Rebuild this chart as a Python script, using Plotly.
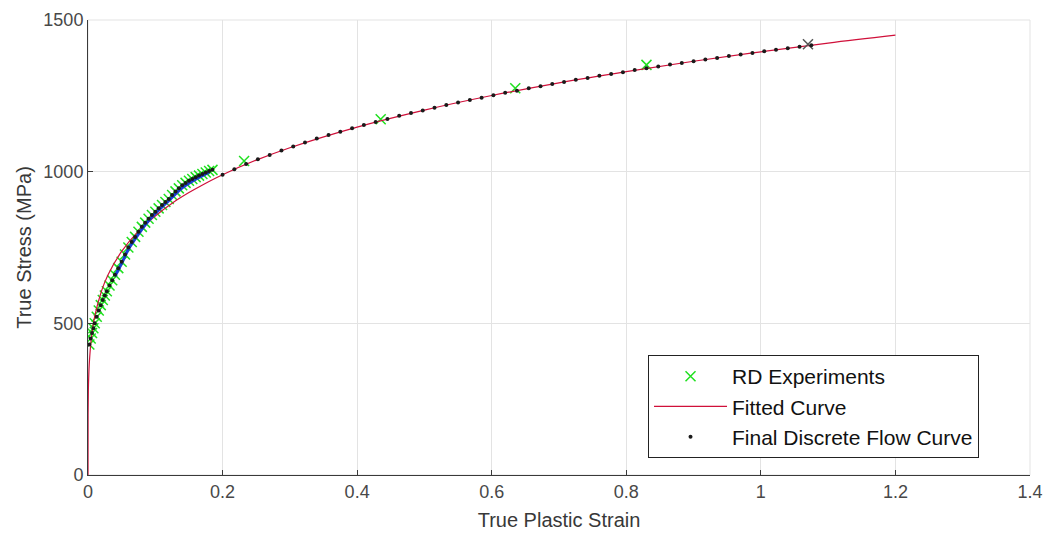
import plotly.graph_objects as go

# RD experimental data (true plastic strain, true stress MPa)
exp_strain = [0.002, 0.004, 0.006, 0.008, 0.010, 0.013, 0.016, 0.019, 0.022, 0.025,
              0.028, 0.032, 0.036, 0.040, 0.045, 0.050, 0.055, 0.060, 0.065, 0.070,
              0.075, 0.080, 0.085, 0.090, 0.095, 0.100, 0.105, 0.110, 0.115, 0.120,
              0.125, 0.130, 0.135, 0.140, 0.145, 0.150, 0.155, 0.160, 0.165, 0.170,
              0.175, 0.180, 0.185]
exp_stress = [430, 450, 468, 484, 500, 522, 542, 560, 577, 592,
              606, 625, 642, 660, 682, 703, 727, 750, 768, 785,
              802, 818, 832, 845, 857, 868, 879, 890, 900, 910,
              923, 935, 945, 955, 963, 970, 976, 982, 987, 992,
              997, 1002, 1006]

# isolated RD experiment points at larger strain
rd_far_strain = [0.232, 0.435, 0.635, 0.830]
rd_far_stress = [1035, 1173, 1275, 1352]
rd_last_strain = [1.07]
rd_last_stress = [1420]

# blue experimental curve
blue_strain = [0.040, 0.050, 0.060, 0.070, 0.080, 0.090, 0.100, 0.110, 0.120,
               0.130, 0.140, 0.150, 0.160, 0.170, 0.180]
blue_stress = [655, 698, 744, 778, 810, 838, 862, 884, 904,
               927, 947, 962, 975, 987, 998]

# fitted curve
fit_strain = [0.0, 0.0001, 0.0005, 0.001, 0.002, 0.005, 0.01, 0.02, 0.03, 0.05,
              0.075, 0.1, 0.125, 0.15, 0.175, 0.2, 0.25, 0.3, 0.4, 0.5,
              0.6, 0.7, 0.8, 0.9, 1.0, 1.1, 1.2]
fit_stress = [0, 197, 276, 320, 371, 451, 523, 606, 661, 737,
              804, 854, 896, 931, 962, 990, 1038, 1079, 1147, 1203,
              1251, 1293, 1330, 1364, 1395, 1424, 1450]

# final discrete flow curve (beyond experiments)
disc_strain = [0.2, 0.2175, 0.235, 0.2525, 0.27, 0.2875, 0.305, 0.3225, 0.34, 0.3575,
               0.375, 0.3925, 0.41, 0.4275, 0.445, 0.4625, 0.48, 0.4975, 0.515, 0.5325,
               0.55, 0.5675, 0.585, 0.6025, 0.62, 0.6375, 0.655, 0.6725, 0.69, 0.7075,
               0.725, 0.7425, 0.76, 0.7775, 0.795, 0.8125, 0.83, 0.8475, 0.865, 0.8825,
               0.9, 0.9175, 0.935, 0.9525, 0.97, 0.9875, 1.005, 1.0225, 1.04, 1.0575, 1.075]
disc_stress = [990, 1008, 1025, 1041, 1055, 1070, 1083, 1096, 1109, 1121,
               1132, 1143, 1154, 1164, 1174, 1184, 1193, 1202, 1211, 1220,
               1228, 1236, 1244, 1252, 1260, 1267, 1275, 1282, 1289, 1296,
               1303, 1309, 1316, 1322, 1328, 1335, 1341, 1347, 1353, 1358,
               1364, 1370, 1375, 1381, 1386, 1391, 1397, 1402, 1407, 1412, 1417]

x_ticks = [0, 0.2, 0.4, 0.6, 0.8, 1, 1.2, 1.4]
x_tick_text = ["0", "0.2", "0.4", "0.6", "0.8", "1", "1.2", "1.4"]
y_ticks = [0, 500, 1000, 1500]

GREEN = "#1fe01f"
FONT = "Liberation Sans, Arial, sans-serif"
fig = go.Figure()

fig.add_trace(go.Scatter(
    x=exp_strain + rd_far_strain, y=exp_stress + rd_far_stress, mode="markers",
    name="RD Experiments",
    marker=dict(symbol="x-thin", size=10, line=dict(color=GREEN, width=1.5), color=GREEN)))
fig.add_trace(go.Scatter(
    x=fit_strain, y=fit_stress, mode="lines", name="Fitted Curve",
    line=dict(color="#d0103a", width=1.2), line_shape="spline"))
fig.add_trace(go.Scatter(
    x=blue_strain, y=blue_stress, mode="lines", showlegend=False,
    line=dict(color="#1a3fd8", width=3), line_shape="spline"))
fig.add_trace(go.Scatter(
    x=rd_last_strain, y=rd_last_stress, mode="markers", showlegend=False,
    marker=dict(symbol="x-thin", size=10, line=dict(color="#555555", width=1.5))))
fig.add_trace(go.Scatter(
    x=exp_strain + disc_strain, y=exp_stress + disc_stress, mode="markers",
    name="Final Discrete Flow Curve",
    marker=dict(symbol="circle", size=4, color="#1a1a1a")))

axis_common = dict(
    showgrid=True, gridcolor="#e3e3e3", gridwidth=1,
    showline=True, linecolor="#3a3a3a", linewidth=1,
    ticks="inside", ticklen=5, tickcolor="#3a3a3a",
    zeroline=False, mirror=False, automargin=False,
    tickfont=dict(family=FONT, size=18, color="#484848"),
)

fig.update_layout(
    width=1052, height=535,
    margin=dict(l=80, r=30, t=12, b=68),
    paper_bgcolor="white", plot_bgcolor="white",
    font=dict(family=FONT, color="#333333"),
    xaxis=dict(range=[0, 1.4], tickvals=x_ticks, ticktext=x_tick_text,
               title=dict(text="True Plastic Strain", font=dict(size=20, color="#383838"), standoff=12),
               **axis_common),
    yaxis=dict(range=[0, 1500], tickvals=y_ticks,
               title=dict(text="True Stress (MPa)", font=dict(size=20, color="#383838"), standoff=6),
               **axis_common),
    legend=dict(x=0.5945, y=0.2637, xanchor="left", yanchor="top",
                bgcolor="white", bordercolor="#222222", borderwidth=1,
                font=dict(family=FONT, size=21, color="#111111"), tracegroupgap=0,
                itemwidth=73),
    showlegend=True,
)
# top/right faint frame
fig.add_shape(type="rect", xref="paper", yref="paper", x0=0, y0=0, x1=1, y1=1,
              line=dict(color="#e3e3e3", width=1), layer="below")

fig.write_html("out.html")
